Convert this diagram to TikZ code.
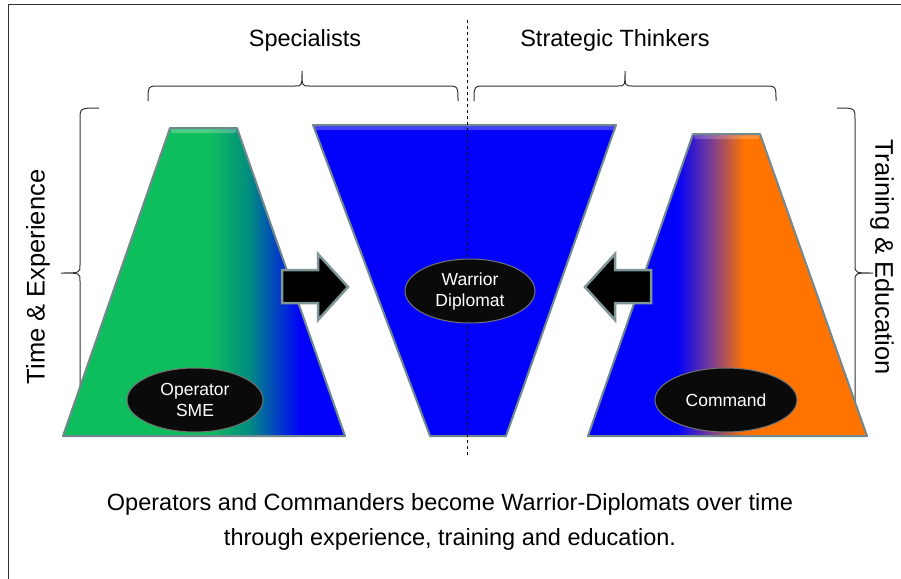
\documentclass[tikz,border=0pt]{standalone}
\usepackage{fontspec}
\setmainfont{Liberation Sans}
\usetikzlibrary{positioning, shapes.geometric}

\definecolor{opgreen}{RGB}{14,190,92}
\definecolor{opteal}{RGB}{0,140,128}
\definecolor{wdblue}{RGB}{2,2,250}
\definecolor{cmpurple}{RGB}{120,60,150}
\definecolor{cmorange}{RGB}{255,116,0}
\definecolor{rimgray}{RGB}{112,136,142}
\definecolor{arrowrim}{RGB}{128,150,150}

\pgfdeclarehorizontalshading{greenblue}{100bp}{color(0bp)=(opgreen); color(51bp)=(opgreen); color(58bp)=(opteal); color(67bp)=(wdblue); color(100bp)=(wdblue)}
\pgfdeclarehorizontalshading{blueorange}{100bp}{color(0bp)=(wdblue); color(41bp)=(wdblue); color(47bp)=(cmpurple); color(53bp)=(cmorange); color(100bp)=(cmorange)}

\begin{document}
\begin{tikzpicture}[x=1pt, y=-1pt,
  bigtxt/.style={font=\fontsize{23.5}{28}\selectfont},
  sidetxt/.style={font=\fontsize{25.5}{30}\selectfont},
  pill/.style={ellipse, fill=black!96, draw=black!55, line width=1pt, text=white,
    inner sep=0pt, minimum width=136pt, minimum height=64pt, align=center,
    font=\fontsize{17.5}{21}\selectfont},
  rim/.style={draw=rimgray, line width=2pt, line join=round},
  blockarrow/.style={fill=black, draw=arrowrim, line width=2.5pt, line join=miter},
  brace/.style={draw=black!80, line width=1pt}]
  \useasboundingbox (0,0) rectangle (901,578);
  \fill[white] (0,0) rectangle (901,578);
  \draw [line width=1pt, black!80] (8,5) rectangle (930,600);

  \node[bigtxt] (spec) at (305,40) {Specialists};
  \node[bigtxt] (strat) at (615,40) {Strategic Thinkers};
  \node[sidetxt, rotate=90] (time) at (38,277) {Time \& Experience};
  \node[sidetxt, rotate=-90] (train) at (882,257) {Training \& Education};

  \draw [brace] (148,101) .. controls (148,86) .. (160,86) -- (295,86)
    .. controls (302,86) .. (302,71) .. controls (302,86) .. (309,86)
    -- (446,86) .. controls (458,86) .. (458,101);
  \draw [brace] (474,101) .. controls (474,86) .. (486,86) -- (618,86)
    .. controls (625,86) .. (625,71) .. controls (625,86) .. (632,86)
    -- (764,86) .. controls (776,86) .. (776,101);
  \draw [brace] (99,108) .. controls (80,108) .. (80,120) -- (80,265)
    .. controls (80,273) .. (61,273) .. controls (80,273) .. (80,281)
    -- (80,432);
  \draw [brace] (837,108) .. controls (855,108) .. (855,120) -- (855,265)
    .. controls (855,273) .. (873,273) .. controls (855,273) .. (855,281)
    -- (855,432);

  \shade [shading=greenblue] (170,128) -- (237,128) -- (345,436) -- (63,436) -- cycle;
  \fill [white, opacity=.25] (170,128) -- (237,128) -- (235,133) -- (172,133) -- cycle;
  \draw [rim] (170,128) -- (237,128) -- (345,436) -- (63,436) -- cycle;

  \fill [wdblue] (313,125) -- (616,125) -- (506,436) -- (430,436) -- cycle;
  \fill [white, opacity=.25] (313,125) -- (616,125) -- (614,130) -- (315,130) -- cycle;
  \draw [rim] (313,125) -- (616,125) -- (506,436) -- (430,436) -- cycle;

  \shade [shading=blueorange] (693,134) -- (760,134) -- (867,436) -- (588,436) -- cycle;
  \fill [white, opacity=.2] (693,134) -- (760,134) -- (758,139) -- (695,139) -- cycle;
  \draw [rim] (693,134) -- (760,134) -- (867,436) -- (588,436) -- cycle;

  \draw [blockarrow] (282,270) -- (318,270) -- (318,254) -- (348,287)
    -- (318,320) -- (318,303) -- (282,303) -- cycle;
  \draw [blockarrow] (651,270) -- (615,270) -- (615,254) -- (585,287)
    -- (615,320) -- (615,303) -- (651,303) -- cycle;

  \draw [dashed, dash pattern=on 3pt off 3pt, line width=1pt] (467,20) -- (467,455);

  \node[pill] (sme) at (195,400) {Operator\\SME};
  \node[pill, minimum width=130pt] (wd) at (470,291) {Warrior\\Diplomat};
  \node[pill, minimum width=142pt] (cmd) at (726,400) {Command};

  \node[bigtxt, align=center, font=\fontsize{23.5}{35}\selectfont] (sum) at (450,522)
    {Operators and Commanders become Warrior-Diplomats over time\\through experience, training and education.};
\end{tikzpicture}
\end{document}
